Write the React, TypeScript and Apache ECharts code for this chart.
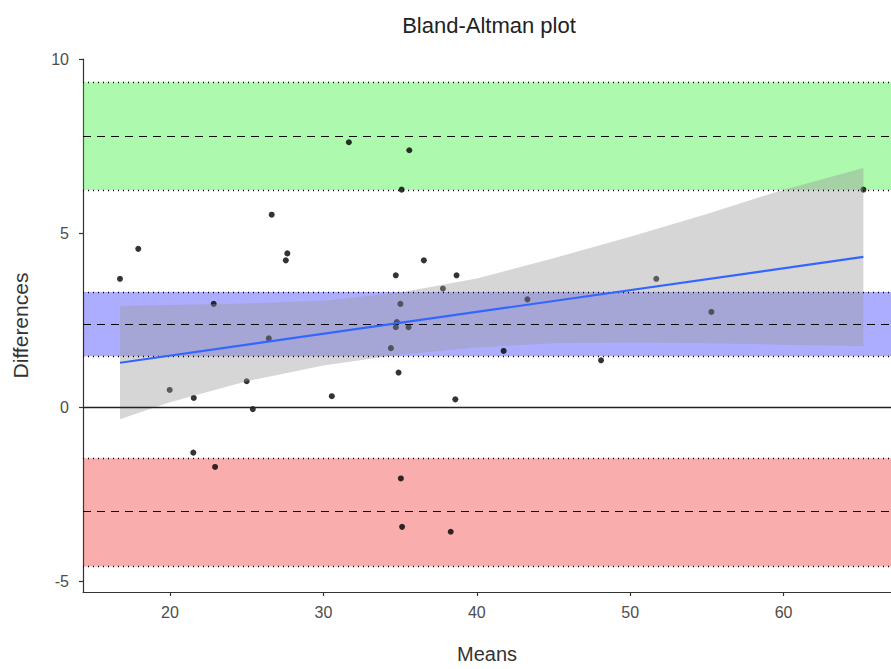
import React, { useEffect, useRef } from "react";
import * as echarts from "echarts";

// Means (x) and differences (y) of the paired measurements
const means = [
  16.74, 17.93, 22.85, 19.98, 21.55, 21.52, 22.94, 25.0, 25.4, 26.44,
  26.63, 27.65, 27.55, 30.55, 31.66, 34.72, 34.4, 34.79, 34.72, 35.02,
  35.55, 34.9, 35.6, 35.1, 36.55, 37.79, 38.68, 38.6, 35.05, 35.13,
  38.3, 41.75, 43.3, 48.1, 51.7, 55.29, 65.2,
];
const differences = [
  3.69, 4.55, 2.97, 0.5, 0.27, -1.3, -1.71, 0.75, -0.05, 1.98,
  5.53, 4.42, 4.22, 0.32, 7.61, 3.79, 1.7, 2.45, 2.3, 2.97,
  2.3, 1.0, 7.38, 6.25, 4.22, 3.41, 3.79, 0.23, -2.04, -3.43,
  -3.57, 1.62, 3.1, 1.35, 3.69, 2.74, 6.25,
];

// Limits of agreement and their confidence intervals
const upperLoA = { lo: 6.24, mid: 7.77, hi: 9.33 };
const meanDiff = { lo: 1.47, mid: 2.38, hi: 3.31 };
const lowerLoA = { lo: -4.57, mid: -2.99, hi: -1.46 };

// Regression line of differences on means and its confidence ribbon
const fitX = [16.74, 65.2];
const fitY = [1.28, 4.32];
const ciX = [16.74, 20, 25, 30, 35, 40, 45, 50, 55, 60, 65.2];
const ciUpper = [2.91, 2.94, 2.98, 3.06, 3.3, 3.7, 4.28, 4.9, 5.55, 6.25, 6.87];
const ciLower = [-0.34, 0.15, 0.75, 1.2, 1.52, 1.72, 1.84, 1.86, 1.84, 1.8, 1.76];

const xTicks = [20, 30, 40, 50, 60];
const yTicks = [-5, 0, 5, 10];

const FONT = "'Liberation Sans', Arial, sans-serif";

export default function App() {
  const ref = useRef<HTMLDivElement>(null);

  useEffect(() => {
    if (!ref.current) return;
    document.body.style.margin = "0";
    const chart = echarts.init(ref.current, undefined, { renderer: "svg" });

    const points = means.map((m, i) => [m, differences[i]]);
    const dotted = (v: number) => ({
      yAxis: v,
      lineStyle: { type: [1, 4] as any, color: "#000", width: 1.3 },
    });
    const dashed = (v: number) => ({
      yAxis: v,
      lineStyle: { type: [8, 6] as any, color: "#000", width: 1.2 },
    });

    const option: any = {
      animation: false,
      textStyle: { fontFamily: FONT },
      graphic: [
        {
          type: "text",
          x: 489,
          y: 25,
          style: {
            text: "Bland-Altman plot",
            fill: "#222",
            font: `22px ${FONT}`,
            textAlign: "center",
            textVerticalAlign: "middle",
          },
        },
      ],
      grid: { left: 83, right: 0, top: 59, bottom: 76, containLabel: false },
      xAxis: {
        type: "value",
        min: 14.33,
        max: 67,
        splitLine: { show: false },
        axisLine: { show: true, onZero: false, lineStyle: { color: "#333", width: 1.2 } },
        axisTick: { show: true, length: 4, customValues: xTicks, lineStyle: { color: "#333", width: 1.2 } },
        axisLabel: { customValues: xTicks, color: "#4d4d4d", fontSize: 16, margin: 12, fontFamily: FONT },
        name: "Means",
        nameLocation: "middle",
        nameGap: 52,
        nameTextStyle: { fontSize: 20, color: "#333", fontFamily: FONT },
      },
      yAxis: {
        type: "value",
        min: -5.3,
        max: 10,
        splitLine: { show: false },
        axisLine: { show: true, onZero: false, lineStyle: { color: "#333", width: 1.2 } },
        axisTick: { show: true, length: 4, customValues: yTicks, lineStyle: { color: "#333", width: 1.2 } },
        axisLabel: { customValues: yTicks, color: "#4d4d4d", fontSize: 16, margin: 14, fontFamily: FONT },
        name: "Differences",
        nameLocation: "middle",
        nameGap: 52,
        nameRotate: 90,
        nameTextStyle: { fontSize: 21, color: "#333", fontFamily: FONT },
      },
      series: [
        {
          name: "points",
          type: "scatter",
          z: 1,
          symbol: "circle",
          symbolSize: 6,
          itemStyle: { color: "#000" },
          data: points,
        },
        {
          name: "reference lines",
          type: "line",
          z: 2,
          data: [],
          silent: true,
          markLine: {
            symbol: "none",
            silent: true,
            label: { show: false },
            data: [
              dotted(upperLoA.lo), dotted(upperLoA.hi), dashed(upperLoA.mid),
              dotted(meanDiff.lo), dotted(meanDiff.hi), dashed(meanDiff.mid),
              dotted(lowerLoA.lo), dotted(lowerLoA.hi), dashed(lowerLoA.mid),
              { yAxis: 0, lineStyle: { type: "solid", color: "#222", width: 1.3 } },
            ],
          },
        },
        {
          name: "bands",
          type: "line",
          z: 3,
          data: [],
          silent: true,
          markArea: {
            silent: true,
            data: [
              [{ yAxis: upperLoA.lo, itemStyle: { color: "rgba(0,235,0,0.32)" } }, { yAxis: upperLoA.hi }],
              [{ yAxis: meanDiff.lo, itemStyle: { color: "rgba(0,0,255,0.32)" } }, { yAxis: meanDiff.hi }],
              [{ yAxis: lowerLoA.lo, itemStyle: { color: "rgba(240,0,0,0.32)" } }, { yAxis: lowerLoA.hi }],
            ],
          },
        },
        {
          name: "ci ribbon",
          type: "custom",
          z: 4,
          silent: true,
          data: ciX.map((x, i) => [x, ciLower[i], ciUpper[i]]),
          encode: { x: 0, y: [1, 2] },
          renderItem: (params: any, api: any) => {
            if (params.dataIndex !== 0) return null;
            const pts: number[][] = [];
            for (let i = 0; i < ciX.length; i++) pts.push(api.coord([ciX[i], ciUpper[i]]));
            for (let i = ciX.length - 1; i >= 0; i--) pts.push(api.coord([ciX[i], ciLower[i]]));
            return {
              type: "polygon",
              shape: { points: pts },
              style: { fill: "rgba(153,153,153,0.4)" },
            };
          },
        },
        {
          name: "fit",
          type: "line",
          z: 5,
          symbol: "none",
          lineStyle: { color: "#3366FF", width: 2.2 },
          data: fitX.map((x, i) => [x, fitY[i]]),
        },
      ],
    };

    chart.setOption(option);
    return () => chart.dispose();
  }, []);

  return (
    <div
      ref={ref}
      style={{ position: "fixed", left: 0, top: 0, width: 891, height: 669, background: "#fff" }}
    />
  );
}
